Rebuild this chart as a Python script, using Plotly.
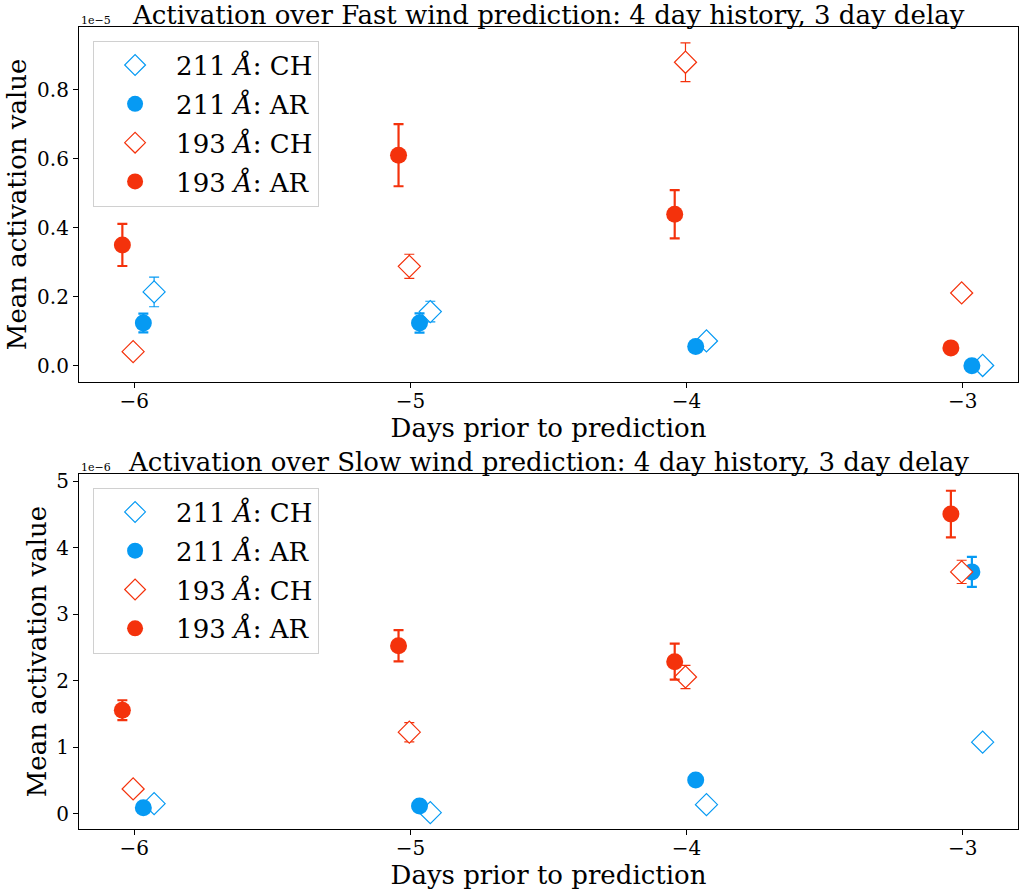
import plotly.graph_objects as go
from plotly.subplots import make_subplots

days = [-6, -5, -4, -3]
# x offsets per series (fraction of a day)
off_ar193, off_ch193, off_ar211, off_ch211 = -0.043, -0.004, 0.033, 0.072

# Fast wind (units of 1e-5)
fast_ch211 = [0.214, 0.157, 0.072, 0.001]
fast_ch211_err = [0.043, 0.030, 0.006, 0.004]
fast_ar211 = [0.124, 0.124, 0.056, 0.000]
fast_ar211_err = [0.027, 0.028, 0.006, 0.003]
fast_ch193 = [0.041, 0.288, 0.879, 0.211]
fast_ch193_err = [0.006, 0.035, 0.056, 0.015]
fast_ar193 = [0.350, 0.610, 0.439, 0.052]
fast_ar193_err = [0.061, 0.090, 0.070, 0.006]

# Slow wind (units of 1e-6)
slow_ch211 = [0.155, 0.020, 0.140, 1.08]
slow_ch211_err = [0.020, 0.010, 0.020, 0.05]
slow_ar211 = [0.095, 0.120, 0.510, 3.64]
slow_ar211_err = [0.010, 0.020, 0.030, 0.225]
slow_ch193 = [0.376, 1.230, 2.060, 3.64]
slow_ch193_err = [0.030, 0.145, 0.175, 0.175]
slow_ar193 = [1.560, 2.530, 2.290, 4.51]
slow_ar193_err = [0.150, 0.235, 0.270, 0.350]

labels = ["211 <i>Å</i>: CH", "211 <i>Å</i>: AR", "193 <i>Å</i>: CH", "193 <i>Å</i>: AR"]
BLUE = "#069AF3"
RED = "#F4320C"
FONT = "DejaVu Serif"

fig = make_subplots(rows=2, cols=1, vertical_spacing=0.115)

def add_series(row, vals, errs, off, color, filled, name, legend):
    x = [d + off for d in days]
    if filled:
        marker = dict(symbol="circle", size=17, color=color, line=dict(width=0))
        ew = 2.2
    else:
        marker = dict(symbol="diamond", size=17, color="white", line=dict(width=1.2, color=color))
        ew = 1.2
    fig.add_trace(go.Scatter(
        x=x, y=vals, mode="markers", name=name, marker=marker,
        error_y=dict(type="data", array=errs, visible=True, color=color, thickness=ew, width=5),
        legend=legend, legendgroup=name + legend,
    ), row=row, col=1)

add_series(1, fast_ch211, fast_ch211_err, off_ch211, BLUE, False, labels[0], "legend")
add_series(1, fast_ar211, fast_ar211_err, off_ar211, BLUE, True, labels[1], "legend")
add_series(1, fast_ch193, fast_ch193_err, off_ch193, RED, False, labels[2], "legend")
add_series(1, fast_ar193, fast_ar193_err, off_ar193, RED, True, labels[3], "legend")

add_series(2, slow_ch211, slow_ch211_err, off_ch211, BLUE, False, labels[0], "legend2")
add_series(2, slow_ar211, slow_ar211_err, off_ar211, BLUE, True, labels[1], "legend2")
add_series(2, slow_ch193, slow_ch193_err, off_ch193, RED, False, labels[2], "legend2")
add_series(2, slow_ar193, slow_ar193_err, off_ar193, RED, True, labels[3], "legend2")

axis_common = dict(showline=True, linecolor="black", linewidth=1.2, mirror=True,
                   ticks="outside", ticklen=5, tickcolor="black", showgrid=False,
                   zeroline=False, tickfont=dict(family=FONT, size=20, color="black"))

fig.update_xaxes(**axis_common, range=[-6.2, -2.8], tickvals=days, ticklabelstandoff=-4,
                 title=dict(text="Days prior to prediction", font=dict(family=FONT, size=26, color="black"), standoff=0))
fig.update_yaxes(**axis_common, title=dict(text="Mean activation value", font=dict(family=FONT, size=26, color="black"), standoff=2))
fig.update_yaxes(range=[-0.046, 0.981], tickvals=[0.0, 0.2, 0.4, 0.6, 0.8], ticktext=["0.0", "0.2", "0.4", "0.6", "0.8"], row=1, col=1)
fig.update_yaxes(range=[-0.226, 5.11], tickvals=[0, 1, 2, 3, 4, 5], row=2, col=1)

legend_common = dict(xanchor="left", yanchor="top", xref="paper", yref="paper",
                     bgcolor="rgba(255,255,255,0.8)", bordercolor="#d0d0d0", borderwidth=1,
                     font=dict(family=FONT, size=26, color="black"), traceorder="grouped",
                     tracegroupgap=2, itemwidth=72)

fig.update_layout(
    width=1020, height=892,
    margin=dict(l=79, r=2, t=27, b=63),
    plot_bgcolor="white", paper_bgcolor="white",
    font=dict(family=FONT, color="black"),
    showlegend=True,
    legend=dict(x=0.015, y=0.983, **legend_common),
    legend2=dict(x=0.015, y=0.4258, **legend_common),
    annotations=[
        dict(text="Activation over Fast wind prediction: 4 day history, 3 day delay", x=0.5, y=1.0,
             xref="paper", yref="paper", xanchor="center", yanchor="bottom", showarrow=False,
             font=dict(family=FONT, size=26, color="black"), yshift=-5),
        dict(text="Activation over Slow wind prediction: 4 day history, 3 day delay", x=0.5, y=0.4425,
             xref="paper", yref="paper", xanchor="center", yanchor="bottom", showarrow=False,
             font=dict(family=FONT, size=26, color="black"), yshift=-5),
        dict(text="1e−5", x=0.0, y=1.0, xref="paper", yref="paper", xanchor="left", yanchor="bottom",
             showarrow=False, font=dict(family=FONT, size=11, color="black"), yshift=-2),
        dict(text="1e−6", x=0.0, y=0.4425, xref="paper", yref="paper", xanchor="left", yanchor="bottom",
             showarrow=False, font=dict(family=FONT, size=11, color="black"), yshift=-2),
    ],
)
fig.update_layout(yaxis=dict(domain=[0.5577, 1.0]), yaxis2=dict(domain=[0.0, 0.4425]))

fig.write_html("out.html", config={"displayModeBar": False},
               post_script="document.body.style.margin='0';")
